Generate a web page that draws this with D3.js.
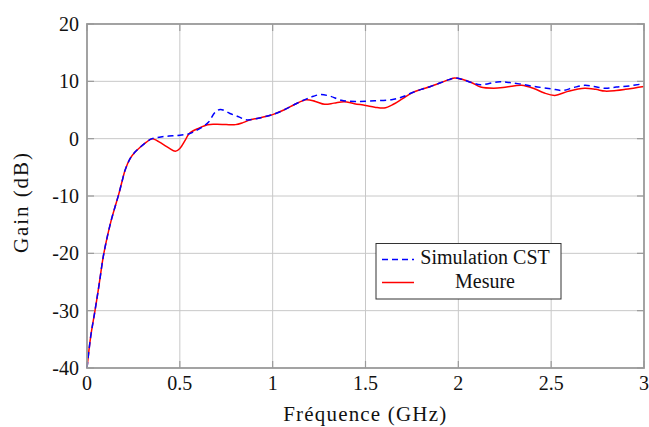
<!DOCTYPE html>
<html>
<head>
<meta charset="utf-8">
<script src="https://cdn.jsdelivr.net/npm/d3@7"></script>
<style>
  html, body { margin: 0; padding: 0; background: #fff; }
  svg { display: block; }
  text { font-family: "Liberation Serif", "Times New Roman", serif; fill: #111; }
</style>
</head>
<body>
<svg id="chart" width="649" height="427"></svg>
<script>
// ---- data ----
const xTicks = [0, 0.5, 1, 1.5, 2, 2.5, 3];
const xTickLabels = ["0", "0.5", "1", "1.5", "2", "2.5", "3"];
const yTicks = [-40, -30, -20, -10, 0, 10, 20];
const yTickLabels = ["-40", "-30", "-20", "-10", "0", "10", "20"];
const seriesNames = ["Simulation CST", "Mesure"];

const simFreq = [0, 0.02, 0.043, 0.065, 0.088, 0.11, 0.13, 0.15, 0.17, 0.19, 0.205, 0.232, 0.26, 0.286, 0.32, 0.35,
  0.38, 0.42, 0.46, 0.5, 0.55, 0.59, 0.625, 0.655, 0.69, 0.718, 0.77, 0.818, 0.854, 0.88, 0.94, 1.0, 1.06, 1.12, 1.18,
  1.22, 1.26, 1.31, 1.37, 1.45, 1.55, 1.64, 1.7, 1.75, 1.8, 1.85, 1.9, 1.95, 1.98, 2.02, 2.07, 2.12, 2.21, 2.26, 2.32,
  2.41, 2.5, 2.56, 2.62, 2.68, 2.73, 2.79, 2.85, 2.92, 3.0];
const simGain = [-40, -34.5, -30, -25.5, -20.5, -17, -14.3, -12, -9.8, -7.3, -5.5, -3.5, -2.3, -1.5, -0.6, 0,
  0.2, 0.4, 0.5, 0.6, 0.85, 1.45, 2.1, 2.9, 4.6, 5.1, 4.4, 3.8, 3.3, 3.3, 3.7, 4.2, 5.0, 6.0, 6.9,
  7.4, 7.7, 7.4, 6.7, 6.5, 6.6, 6.8, 7.3, 8.0, 8.6, 9.1, 9.7, 10.3, 10.6, 10.35, 9.8, 9.4, 9.9, 9.85, 9.6,
  9.1, 8.7, 8.4, 8.9, 9.3, 9.1, 8.8, 9.0, 9.2, 9.6];

const mesFreq = [0, 0.02, 0.043, 0.065, 0.088, 0.11, 0.13, 0.15, 0.17, 0.19, 0.205, 0.232, 0.26, 0.286, 0.32, 0.35,
  0.38, 0.41, 0.44, 0.476, 0.5, 0.53, 0.55, 0.6, 0.65, 0.7, 0.75, 0.8, 0.84, 0.88, 0.94, 1.0, 1.06, 1.12, 1.18,
  1.23, 1.28, 1.33, 1.385, 1.44, 1.5, 1.55, 1.6, 1.65, 1.7, 1.75, 1.8, 1.85, 1.9, 1.95, 1.98, 2.02, 2.07, 2.12, 2.19,
  2.26, 2.34, 2.41, 2.46, 2.52, 2.59, 2.68, 2.74, 2.79, 2.85, 2.9, 2.95, 3.0];
const mesGain = [-40, -34.5, -30, -25.5, -20.5, -17, -14.3, -12, -9.8, -7.3, -5.5, -3.5, -2.3, -1.5, -0.6, 0,
  -0.4, -1.0, -1.6, -2.2, -1.7, -0.2, 0.87, 1.8, 2.44, 2.5, 2.45, 2.45, 2.8, 3.3, 3.7, 4.2, 5.0, 6.0, 6.8,
  6.5, 6.0, 6.2, 6.45, 6.1, 5.8, 5.5, 5.35, 6.0, 7.0, 8.0, 8.6, 9.1, 9.7, 10.3, 10.6, 10.35, 9.8, 9.0, 8.8,
  9.0, 9.3, 8.7, 8.0, 7.55, 8.25, 8.8, 8.6, 8.3, 8.4, 8.6, 8.85, 9.1];

// ---- layout ----
const svg = d3.select("#chart");
const L = 87, R = 644, T = 24, B = 368;
const x = d3.scaleLinear().domain([0, 3]).range([L, R]);
const y = d3.scaleLinear().domain([-40, 20]).range([B, T]);

// grid
const grid = svg.append("g");
grid.selectAll(".gx").data(xTicks.slice(1, -1)).enter().append("line")
  .attr("x1", d => x(d)).attr("x2", d => x(d)).attr("y1", T).attr("y2", B)
  .attr("stroke", "#c8c8c8").attr("stroke-width", 1);
grid.selectAll(".gy").data(yTicks.slice(1, -1)).enter().append("line")
  .attr("x1", L).attr("x2", R).attr("y1", d => y(d)).attr("y2", d => y(d))
  .attr("stroke", "#c8c8c8").attr("stroke-width", 1);

// inner ticks on all four sides
const tk = 7;
const ticks = svg.append("g").attr("stroke", "#9a9a9a").attr("stroke-width", 1.2);
xTicks.forEach(d => {
  ticks.append("line").attr("x1", x(d)).attr("x2", x(d)).attr("y1", B).attr("y2", B - tk);
  ticks.append("line").attr("x1", x(d)).attr("x2", x(d)).attr("y1", T).attr("y2", T + tk);
});
yTicks.forEach(d => {
  ticks.append("line").attr("x1", L).attr("x2", L + tk).attr("y1", y(d)).attr("y2", y(d));
  ticks.append("line").attr("x1", R).attr("x2", R - tk).attr("y1", y(d)).attr("y2", y(d));
});

// lines
const line = d3.line().x(d => x(d[0])).y(d => y(d[1])).curve(d3.curveCatmullRom.alpha(0.5));
const simData = simFreq.map((f, i) => [f, simGain[i]]);
const mesData = mesFreq.map((f, i) => [f, mesGain[i]]);

svg.append("path").datum(mesData).attr("d", line)
  .attr("fill", "none").attr("stroke", "#ff0000").attr("stroke-width", 1.5);
svg.append("path").datum(simData).attr("d", line)
  .attr("fill", "none").attr("stroke", "#0000ff").attr("stroke-width", 1.5)
  .attr("stroke-dasharray", "6,4");

// frame
svg.append("rect").attr("x", L).attr("y", T).attr("width", R - L).attr("height", B - T)
  .attr("fill", "none").attr("stroke", "#999").attr("stroke-width", 1.8);

// tick labels
svg.append("g").selectAll("text").data(xTicks).enter().append("text")
  .attr("x", d => x(d)).attr("y", 390).attr("text-anchor", "middle")
  .attr("font-size", 20).text((d, i) => xTickLabels[i]);
svg.append("g").selectAll("text").data(yTicks).enter().append("text")
  .attr("x", 79).attr("y", d => y(d) + 7).attr("text-anchor", "end")
  .attr("font-size", 20).text((d, i) => yTickLabels[i]);

// axis labels
svg.append("text").attr("x", 364.7).attr("y", 421).attr("text-anchor", "middle")
  .attr("font-size", 21).attr("textLength", 163).attr("lengthAdjust", "spacing")
  .text("Fréquence (GHz)");
svg.append("text").attr("transform", "translate(28,203) rotate(-90)").attr("text-anchor", "middle")
  .attr("font-size", 21).attr("textLength", 100).attr("lengthAdjust", "spacing")
  .text("Gain (dB)");

// legend
const lg = svg.append("g");
lg.append("rect").attr("x", 376).attr("y", 243.5).attr("width", 185).attr("height", 55.5)
  .attr("fill", "#fff").attr("stroke", "#333").attr("stroke-width", 1);
lg.append("line").attr("x1", 382).attr("x2", 414).attr("y1", 259.5).attr("y2", 259.5)
  .attr("stroke", "#0000ff").attr("stroke-width", 1.5).attr("stroke-dasharray", "6,4");
lg.append("line").attr("x1", 382).attr("x2", 414).attr("y1", 282.5).attr("y2", 282.5)
  .attr("stroke", "#ff0000").attr("stroke-width", 1.5);
lg.append("text").attr("x", 485).attr("y", 264).attr("text-anchor", "middle")
  .attr("font-size", 20).text(seriesNames[0]);
lg.append("text").attr("x", 485).attr("y", 288).attr("text-anchor", "middle")
  .attr("font-size", 20).text(seriesNames[1]);
</script>
</body>
</html>
